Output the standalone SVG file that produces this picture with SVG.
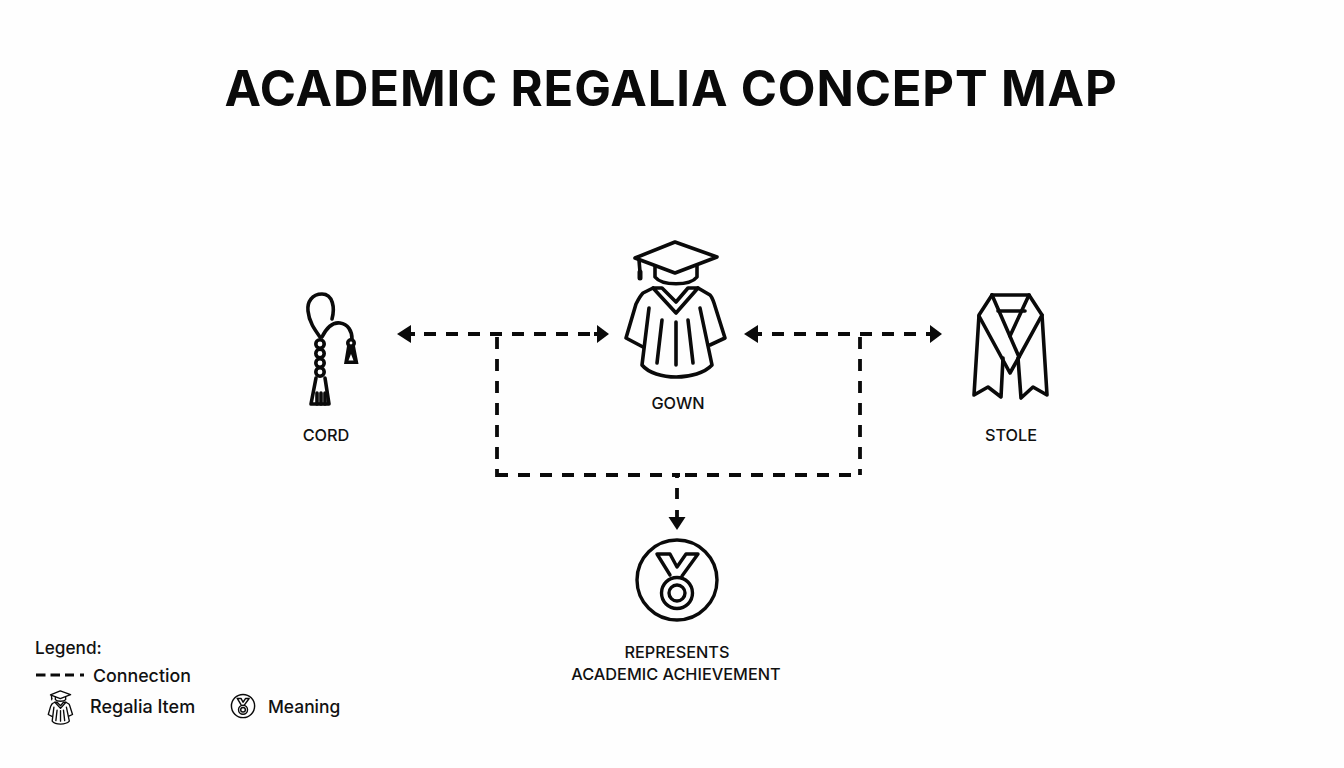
<svg xmlns="http://www.w3.org/2000/svg" width="1344" height="768" viewBox="0 0 1344 768">
<defs>
<style>
text{font-family:Inter,"Liberation Sans",sans-serif;fill:#111;font-weight:550}
.t{font-size:49px;font-weight:750;fill:#0a0a0a;letter-spacing:.85px}
.l{font-size:16.300px;text-anchor:middle}
.g{font-size:17.800px;font-weight:500}
.i{fill:none;stroke:#0a0a0a;stroke-width:3.600;stroke-linejoin:round;stroke-linecap:round}
.ic{fill:none;stroke:#0a0a0a;stroke-linejoin:round;stroke-linecap:round}
.c{fill:none;stroke:#0a0a0a;stroke-width:3.800;stroke-dasharray:12 10}
.c2{fill:none;stroke:#0a0a0a;stroke-width:3.800}
.h{fill:#0a0a0a}
</style>
<g id="gown-shape">
<path d="M675 242L717 257L675 273L635 258Z"/>
<path d="M639 260L640 272"/>
<path d="M640 272V278" stroke-width="5"/>
<path d="M655 266V277C662 286 690 286 697 277V266"/>
<path d="M653 288L643 293C640 296 638 300 636 304L626 338L643 347"/>
<path d="M698 288L710 295C712 297 713 300 714 303L725 338L710 345"/>
<path d="M653 288H662L676 302L688 288H698L676 313Z"/>
<path d="M649 308L642 365C655 381 697 381 712 365L700 308"/>
<path d="M662 320L657 363M676 322V365M688 320L693 363"/>
</g>
<g id="medal-shape">
<circle cx="677" cy="580" r="40"/>
<path d="M657 554H670L677 567L686 554H698L682 576M657 554L670 575"/>
<circle cx="677" cy="593" r="15.500"/>
<circle cx="677" cy="593" r="8"/>
</g>
</defs>
<rect width="1344" height="768" fill="#fefefe"/>
<text id="title" class="t" x="671" y="106" text-anchor="middle">ACADEMIC REGALIA CONCEPT MAP</text>
<g id="connectors">
<path class="c" d="M424 334H590"/>
<path class="c2" d="M408 334H415M594 334H600"/>
<path class="h" d="M397 334L411 325V343Z"/>
<path class="h" d="M609 334L597 325V343Z"/>
<path class="c" d="M772 334H918"/>
<path class="c2" d="M755 334H762M926 334H932"/>
<path class="h" d="M744 334L758 325V343Z"/>
<path class="h" d="M942 334L930 325V343Z"/>
<path class="c" d="M497 337V459"/>
<path class="c" d="M860 337V459"/>
<path class="c2" d="M497 469V475H508"/>
<path class="c2" d="M860 469V475"/>
<path class="c" d="M518 475H680"/>
<path class="c" d="M685 475H852"/>
<path class="c2" d="M677 475V478M677 488V499M677 510V518"/>
<path class="h" d="M677 530L668.500 517H685.500Z"/>
</g>
<g id="node-cord">
<path class="i" d="M332 319C335 308 333 294 322 294C312 294 307 302 308 311C309 322 315 330 320 337"/>
<path class="i" d="M322 337C327 327 333 322 340 323C348 324 352 331 352 339"/>
<circle class="i" stroke-width="3" cx="320" cy="344" r="4.200"/>
<circle class="i" stroke-width="3" cx="320" cy="353.500" r="4.200"/>
<circle class="i" stroke-width="3" cx="320" cy="363" r="4.200"/>
<circle class="i" stroke-width="3" cx="320" cy="372" r="4.200"/>
<path class="i" d="M316 378L311 404H329L325 378"/>
<path class="i" d="M317 393V404M321 393V404M325 393V404"/>
<circle class="i" stroke-width="3" cx="351" cy="343" r="3.200"/>
<path class="h" d="M347 346H355L358.500 364H344ZM351 354L348.500 360.500H353.500Z" fill-rule="evenodd"/>
<text class="l" x="326" y="441">CORD</text>
</g>
<g id="node-gown">
<use href="#gown-shape" class="ic" stroke-width="3.600"/>
<text class="l" x="678" y="409">GOWN</text>
</g>
<g id="node-stole">
<path class="i" d="M992 295H1029L1042 315L1047 395L1033 387L1021 398L1018 358"/>
<path class="i" d="M992 295L979 315L974 395L988 387L1001 397L1003 358"/>
<path class="i" d="M992 295L1019 357"/>
<path class="i" d="M1029 295L1010 336"/>
<path class="i" d="M998 311H1025"/>
<path class="i" d="M979 316L1010 373L1019 357L1042 315"/>
<text class="l" x="1011" y="441">STOLE</text>
</g>
<g id="node-meaning">
<use href="#medal-shape" class="ic" stroke-width="3.400"/>
<text class="l" x="677" y="658">REPRESENTS</text>
<text class="l" x="676" y="680">ACADEMIC ACHIEVEMENT</text>
</g>
<g id="legend">
<text class="g" x="35" y="653.500" style="font-size:17.200px">Legend:</text>
<path d="M36 675H74M80 675H84" fill="none" stroke="#0a0a0a" stroke-width="2.800" stroke-dasharray="9.500 5"/>
<text class="g" x="93" y="681.500">Connection</text>
<use href="#gown-shape" class="ic" stroke-width="5.500" transform="translate(-105.100 631.700) scale(.245)"/>
<text class="g" x="90" y="713" style="font-weight:550;font-size:18px">Regalia Item</text>
<use href="#medal-shape" class="ic" stroke-width="5" transform="translate(46.700 537.800) scale(.29)"/>
<text class="g" x="268" y="713" style="font-weight:550;font-size:17.400px">Meaning</text>
</g>
</svg>
